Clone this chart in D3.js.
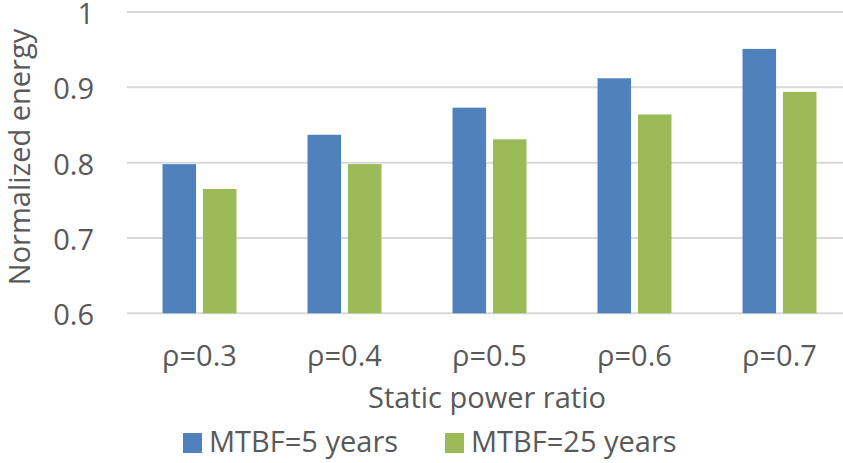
<!DOCTYPE html>
<html lang="en">
<head>
    <meta charset="UTF-8">
    <title>Normalized energy</title>
    <script src="https://cdn.jsdelivr.net/npm/d3@7"></script>
    <style>
        body { margin: 0; background: #fff; }
        text { font-family: "Open Sans", sans-serif; fill: #595959; }
    </style>
</head>
<body>
    <svg width="843" height="463" id="mainsvg"></svg>
    <script>
        // data
        const categories = ['ρ=0.3', 'ρ=0.4', 'ρ=0.5', 'ρ=0.6', 'ρ=0.7'];
        const seriesNames = ['MTBF=5 years', 'MTBF=25 years'];
        const mtbf5 = [0.798, 0.837, 0.873, 0.912, 0.951];
        const mtbf25 = [0.765, 0.798, 0.831, 0.864, 0.894];
        const yTicks = [0.6, 0.7, 0.8, 0.9, 1];
        const colors = ['#4F81BD', '#9BBB59'];

        const svg = d3.select('#mainsvg');
        const width = +svg.attr('width');
        const fontSize = 29;

        const plot = { left: 127, right: 852, top: 12, bottom: 313.3 };

        const y = d3.scaleLinear().domain([0.6, 1]).range([plot.bottom, plot.top]);
        const x0 = d3.scaleBand().domain(categories)
            .range([plot.left, plot.right])
            .paddingInner(0.49).paddingOuter(0.245);
        const x1 = d3.scaleBand().domain(seriesNames)
            .range([0, x0.bandwidth()])
            .paddingInner(0.17);
        const color = d3.scaleOrdinal().domain(seriesNames).range(colors);

        const rows = categories.map((c, i) => ({
            cat: c,
            vals: [
                { key: seriesNames[0], value: mtbf5[i] },
                { key: seriesNames[1], value: mtbf25[i] }
            ]
        }));

        // gridlines
        svg.append('g').selectAll('line').data(yTicks).join('line')
            .attr('x1', plot.left).attr('x2', width)
            .attr('y1', d => y(d)).attr('y2', d => y(d))
            .attr('stroke', '#d9d9d9').attr('stroke-width', 2);

        // y tick labels
        svg.append('g').selectAll('text').data(yTicks).join('text')
            .attr('x', 94)
            .attr('y', d => y(d))
            .attr('dy', '0.41em')
            .attr('text-anchor', 'end')
            .attr('font-size', fontSize)
            .text(d => d3.format('~g')(d));

        // bars
        const groups = svg.append('g').selectAll('g').data(rows).join('g')
            .attr('transform', d => `translate(${x0(d.cat)},0)`);
        groups.selectAll('rect').data(d => d.vals).join('rect')
            .attr('x', d => x1(d.key))
            .attr('width', x1.bandwidth())
            .attr('y', d => y(d.value))
            .attr('height', d => y(0.6) - y(d.value))
            .attr('fill', d => color(d.key));

        // x tick labels
        svg.append('g').selectAll('text').data(categories).join('text')
            .attr('x', d => x0(d) + x0.bandwidth() / 2)
            .attr('y', 366)
            .attr('text-anchor', 'middle')
            .attr('font-size', fontSize)
            .text(d => d);

        // axis titles
        svg.append('text')
            .attr('x', 487).attr('y', 408)
            .attr('text-anchor', 'middle')
            .attr('font-size', fontSize)
            .text('Static power ratio');

        svg.append('text')
            .attr('transform', 'translate(30,157) rotate(-90)')
            .attr('text-anchor', 'middle')
            .attr('font-size', fontSize)
            .text('Normalized energy');

        // legend
        const legendX = [183, 445];
        const legend = svg.append('g').selectAll('g').data(seriesNames).join('g')
            .attr('transform', (d, i) => `translate(${legendX[i]},433)`);
        legend.append('rect')
            .attr('width', 19).attr('height', 20)
            .attr('fill', d => color(d));
        legend.append('text')
            .attr('x', 26).attr('y', 19)
            .attr('font-size', fontSize)
            .text(d => d);
    </script>
</body>
</html>
